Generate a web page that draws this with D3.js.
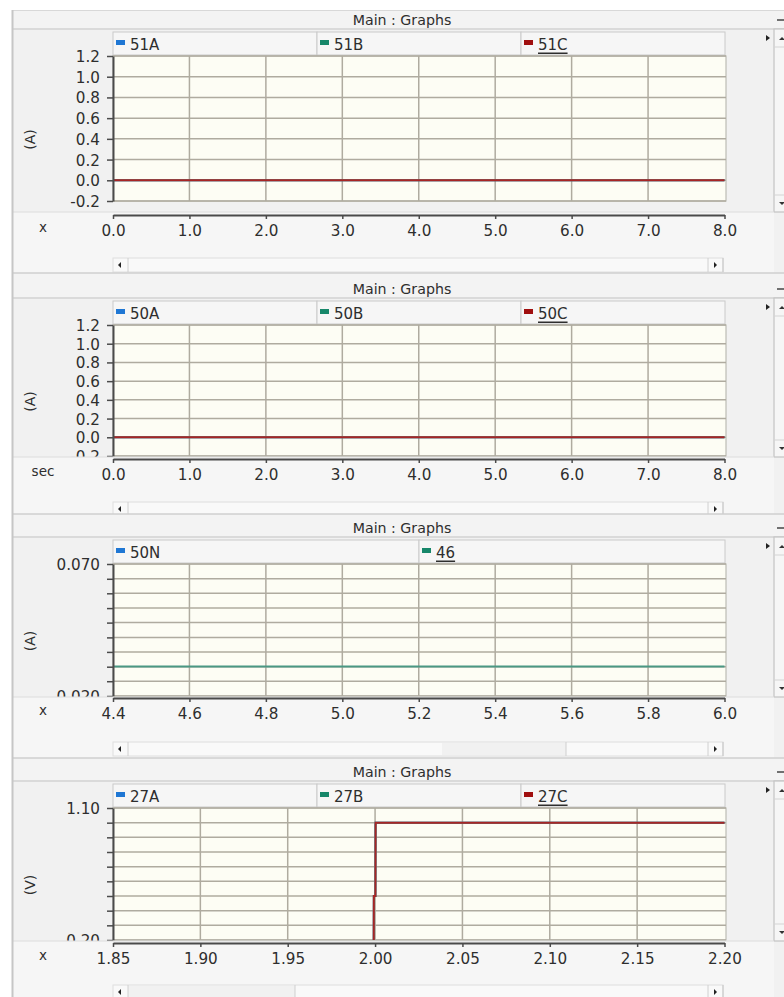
<!DOCTYPE html>
<html>
<head>
<meta charset="utf-8">
<script src="https://cdn.jsdelivr.net/npm/d3@7"></script>
<style>
  body { margin: 0; background: #fff; }
  svg { display: block; font-family: "DejaVu Sans", Verdana, sans-serif; }
</style>
</head>
<body>
<div id="chart"></div>
<script>
// graph 1 : 51 phase currents
const g1Names = ["51A", "51B", "51C"];
const g1Time = [0.0, 8.0];
const g1A = [0.0, 0.0];
const g1B = [0.0, 0.0];
const g1C = [0.0, 0.0];
const g1YTicks = [-0.2, 0.0, 0.2, 0.4, 0.6, 0.8, 1.0, 1.2];
const g1XTicks = [0, 1, 2, 3, 4, 5, 6, 7, 8];

// graph 2 : 50 phase currents
const g2Names = ["50A", "50B", "50C"];
const g2Time = [0.0, 8.0];
const g2A = [0.0, 0.0];
const g2B = [0.0, 0.0];
const g2C = [0.0, 0.0];
const g2YTicks = [-0.2, 0.0, 0.2, 0.4, 0.6, 0.8, 1.0, 1.2];
const g2XTicks = [0, 1, 2, 3, 4, 5, 6, 7, 8];

// graph 3 : neutral + negative sequence
const g3Names = ["50N", "46"];
const g3Time = [4.4, 6.0];
const g3N = [0.0, 0.0];
const g346 = [0.0312, 0.0312];
const g3YTicks = [0.020, 0.0256, 0.0311, 0.0367, 0.0422, 0.0478, 0.0533, 0.0589, 0.0644, 0.070];
const g3XTicks = [4.4, 4.6, 4.8, 5.0, 5.2, 5.4, 5.6, 5.8, 6.0];

// graph 4 : 27 undervoltage
const g4Names = ["27A", "27B", "27C"];
const g4Time = [1.85, 1.9992, 1.9993, 2.0002, 2.0003, 2.20];
const g4A = [0.0, 0.0, 0.5, 0.5, 1.0, 1.0];
const g4B = [0.0, 0.0, 0.5, 0.5, 1.0, 1.0];
const g4C = [0.0, 0.0, 0.5, 0.5, 1.0, 1.0];
const g4YTicks = [0.2, 0.3, 0.4, 0.5, 0.6, 0.7, 0.8, 0.9, 1.0, 1.1];
const g4XTicks = [1.85, 1.90, 1.95, 2.00, 2.05, 2.10, 2.15, 2.20];

const colors = ["#1f77d4", "#17876a", "#a00f0f"];
const lineColors = ["#3a7fd0", "#4a9883", "#a82525"];

const graphs = [
  { names: g1Names, time: g1Time, series: [g1A, g1B, g1C], yTicks: g1YTicks, xTicks: g1XTicks,
    unit: "(A)", xName: "x", yDec: 1, xDec: 1, allLabels: true },
  { names: g2Names, time: g2Time, series: [g2A, g2B, g2C], yTicks: g2YTicks, xTicks: g2XTicks,
    unit: "(A)", xName: "sec", yDec: 1, xDec: 1, allLabels: true },
  { names: g3Names, time: g3Time, series: [g3N, g346], yTicks: g3YTicks, xTicks: g3XTicks,
    unit: "(A)", xName: "x", yDec: 3, xDec: 1, allLabels: false, fixedLabels: ["0.020", "0.070"] },
  { names: g4Names, time: g4Time, series: [g4A, g4B, g4C], yTicks: g4YTicks, xTicks: g4XTicks,
    unit: "(V)", xName: "x", yDec: 2, xDec: 2, allLabels: false, fixedLabels: ["0.20", "1.10"] }
];

// panel geometry (pixels)
const layout = [
  { top: 10,  titleB: 29,  plotTop: 56,  plotBot: 201, axisTop: 212, axisY: 215, scrollY: 258, bottom: 273, thumb: null },
  { top: 273, titleB: 298, plotTop: 325, plotBot: 456, axisTop: 457, axisY: 459, scrollY: 502, bottom: 514, thumb: null },
  { top: 514, titleB: 537, plotTop: 564, plotBot: 696, axisTop: 697, axisY: 698, scrollY: 742, bottom: 758, thumb: [442, 566] },
  { top: 758, titleB: 781, plotTop: 808, plotBot: 940, axisTop: 941, axisY: 943, scrollY: 985, bottom: 1000, thumb: [128, 295] }
];

const W = 784, H = 997;
const plotL = 113, plotR = 726;
const txt = "#2e2e2e";
const font = '"DejaVu Sans", Verdana, sans-serif';

const svg = d3.select("#chart").append("svg")
  .attr("width", W).attr("height", H);

svg.append("rect").attr("width", W).attr("height", H).attr("fill", "#fff");

graphs.forEach((g, gi) => {
  const L = layout[gi];
  const panel = svg.append("g");

  // panel background
  panel.append("rect").attr("x", 12).attr("y", L.top).attr("width", W - 12).attr("height", L.bottom - L.top)
    .attr("fill", "#f1f1f1");
  // title bar
  panel.append("rect").attr("x", 12).attr("y", L.top).attr("width", W - 12).attr("height", L.titleB - L.top)
    .attr("fill", "#f3f3f3");
  panel.append("line").attr("x1", 12).attr("x2", W).attr("y1", L.titleB).attr("y2", L.titleB)
    .attr("stroke", "#d2d2d2").attr("stroke-width", 1.5);
  panel.append("line").attr("x1", 12).attr("x2", W).attr("y1", L.top + 0.5).attr("y2", L.top + 0.5)
    .attr("stroke", "#d8d8d8");
  panel.append("text").attr("x", 402).attr("y", L.titleB - 9.5)
    .attr("text-anchor", "middle").attr("dominant-baseline", "central")
    .attr("font-size", 14.2).attr("fill", txt).text("Main : Graphs");
  // minimise dash top right
  panel.append("line").attr("x1", 777).attr("x2", W).attr("y1", L.titleB - 9).attr("y2", L.titleB - 9)
    .attr("stroke", "#444").attr("stroke-width", 1.5);

  // legend bar
  const legTop = L.titleB + 3, legBot = L.plotTop - 1;
  const cellW = (plotR - 1 - plotL) / g.names.length;
  g.names.forEach((name, i) => {
    const cx = plotL + i * cellW;
    panel.append("rect").attr("x", cx).attr("y", legTop).attr("width", cellW).attr("height", legBot - legTop)
      .attr("fill", "#f6f6f6").attr("stroke", "#cacaca").attr("stroke-width", 1);
    const c = gi === 2 ? (i === 0 ? colors[0] : colors[1]) : colors[i];
    panel.append("rect").attr("x", cx + 3).attr("y", (legTop + legBot) / 2 - 3.5)
      .attr("width", 9).attr("height", 5).attr("fill", c);
    const last = i === g.names.length - 1;
    panel.append("text").attr("x", cx + 17).attr("y", (legTop + legBot) / 2 + 1)
      .attr("dominant-baseline", "central").attr("font-size", 15).attr("fill", txt)
      .attr("text-decoration", last ? "underline" : null)
      .text(name);
  });

  // scales
  const x = d3.scaleLinear().domain(d3.extent(g.xTicks)).range([plotL, plotR - 1.5]);
  const y = d3.scaleLinear().domain(d3.extent(g.yTicks)).range([L.plotBot, L.plotTop]);

  // plot area
  panel.append("rect").attr("x", plotL).attr("y", L.plotTop).attr("width", plotR - plotL)
    .attr("height", L.plotBot - L.plotTop)
    .attr("fill", "#fdfdf4").attr("stroke", "#bdbdb5").attr("stroke-width", 1.2);

  // grid
  panel.append("g").selectAll("line").data(g.yTicks).join("line")
    .attr("x1", plotL).attr("x2", plotR).attr("y1", d => y(d)).attr("y2", d => y(d))
    .attr("stroke", "#afab9f").attr("stroke-width", 1.5);
  panel.append("g").selectAll("line").data(g.xTicks.slice(1, -1)).join("line")
    .attr("x1", d => x(d)).attr("x2", d => x(d)).attr("y1", L.plotTop).attr("y2", L.plotBot)
    .attr("stroke", "#afab9f").attr("stroke-width", 1.5);

  // series
  const clipId = "clip" + gi;
  svg.append("clipPath").attr("id", clipId).append("rect")
    .attr("x", plotL).attr("y", L.plotTop).attr("width", plotR - plotL).attr("height", L.plotBot - L.plotTop);
  const line = d3.line().x((d, i) => x(g.time[i])).y(d => y(d));
  g.series.forEach((s, i) => {
    const c = gi === 2 ? (i === 0 ? lineColors[0] : lineColors[1]) : lineColors[i];
    panel.append("path").datum(s).attr("clip-path", `url(#${clipId})`)
      .attr("d", line).attr("fill", "none").attr("stroke", c).attr("stroke-width", 2);
  });

  // y axis
  const yFmt = d => {
    if (g.allLabels) return d.toFixed(g.yDec);
    const ext = d3.extent(g.yTicks);
    if (d === ext[0]) return g.fixedLabels[0];
    if (d === ext[1]) return g.fixedLabels[1];
    return "";
  };
  const yAx = panel.append("g").attr("transform", `translate(${plotL},0)`)
    .call(d3.axisLeft(y).tickValues(g.yTicks).tickSize(6).tickSizeOuter(0).tickPadding(7).tickFormat(yFmt));
  yAx.select(".domain").attr("stroke", "#4a4a4a").attr("stroke-width", 2);
  yAx.selectAll(".tick line").attr("stroke", "#4a4a4a").attr("stroke-width", 1.5);
  yAx.selectAll(".tick text").attr("font-size", 15.2).attr("fill", txt)
    .attr("font-family", font).attr("dy", "0.36em");

  // y unit label
  panel.append("text")
    .attr("transform", `translate(30,${(L.plotTop + L.plotBot) / 2 + 11}) rotate(-90)`)
    .attr("text-anchor", "middle").attr("dominant-baseline", "central")
    .attr("font-size", 14).attr("fill", txt).text(g.unit);

  // right vertical scroller
  const vsTop = L.titleB, vsBot = L.axisTop;
  panel.append("rect").attr("x", 774).attr("y", vsTop).attr("width", 14).attr("height", vsBot - vsTop)
    .attr("fill", "#f6f6f6").attr("stroke", "#c4c4c4").attr("stroke-width", 1.2);
  panel.append("line").attr("x1", 774).attr("x2", W).attr("y1", vsTop + 18).attr("y2", vsTop + 18).attr("stroke", "#d4d4d4");
  panel.append("line").attr("x1", 774).attr("x2", W).attr("y1", vsBot - 17).attr("y2", vsBot - 17).attr("stroke", "#d4d4d4");
  panel.append("path").attr("d", `M779,${vsTop + 11} l3,-3 l3,3 z`).attr("fill", "#333");
  panel.append("path").attr("d", `M779,${vsBot - 10} l3,3 l3,-3 z`).attr("fill", "#333");
  panel.append("path").attr("d", `M766,${vsTop + 6} l4,3 l-4,3 z`).attr("fill", "#222");

  // x axis region
  panel.append("rect").attr("x", 12).attr("y", L.axisTop).attr("width", 762).attr("height", L.bottom - L.axisTop)
    .attr("fill", "#f6f6f6");
  panel.append("line").attr("x1", 12).attr("x2", 774).attr("y1", L.axisTop).attr("y2", L.axisTop)
    .attr("stroke", "#dcdcdc");

  const xAx = panel.append("g").attr("transform", `translate(0,${L.axisY})`)
    .call(d3.axisBottom(x).tickValues(g.xTicks).tickSize(4).tickSizeOuter(0).tickFormat(d => d.toFixed(g.xDec)));
  xAx.select(".domain").attr("stroke", "#4a4a4a").attr("stroke-width", 2);
  xAx.selectAll(".tick line").attr("stroke", "#4a4a4a").attr("stroke-width", 1.5);
  xAx.selectAll(".tick text").attr("y", 16).attr("dy", "0.36em").attr("font-size", 15.2).attr("fill", txt)
    .attr("font-family", font);

  panel.append("text").attr("x", 43).attr("y", L.axisY + 12)
    .attr("text-anchor", "middle").attr("dominant-baseline", "central")
    .attr("font-size", 13.5).attr("fill", txt).text(g.xName);

  // horizontal scroller
  const sy = L.scrollY;
  panel.append("rect").attr("x", plotL).attr("y", sy).attr("width", 610).attr("height", 14)
    .attr("fill", "#f9f9f9").attr("stroke", "#dedede");
  if (L.thumb) {
    panel.append("rect").attr("x", L.thumb[0]).attr("y", sy + 1).attr("width", L.thumb[1] - L.thumb[0]).attr("height", 12)
      .attr("fill", "#f1f1f1");
    panel.append("line").attr("x1", L.thumb[1]).attr("x2", L.thumb[1]).attr("y1", sy).attr("y2", sy + 14)
      .attr("stroke", "#cfcfcf");
  }
  panel.append("line").attr("x1", 128).attr("x2", 128).attr("y1", sy).attr("y2", sy + 14).attr("stroke", "#d0d0d0");
  panel.append("line").attr("x1", 708).attr("x2", 708).attr("y1", sy).attr("y2", sy + 14).attr("stroke", "#d0d0d0");
  panel.append("line").attr("x1", 723).attr("x2", 723).attr("y1", sy).attr("y2", sy + 14).attr("stroke", "#c4c4c4");
  panel.append("path").attr("d", `M118,${sy + 7} l3,-3 l0,6 z`).attr("fill", "#222");
  panel.append("path").attr("d", `M717,${sy + 7} l-3,-3 l0,6 z`).attr("fill", "#222");

  panel.append("line").attr("x1", 12).attr("x2", W).attr("y1", L.bottom).attr("y2", L.bottom)
    .attr("stroke", "#cfcfcf").attr("stroke-width", 1.5);
});

// left border of the window
svg.append("line").attr("x1", 12.5).attr("x2", 12.5).attr("y1", 10).attr("y2", H)
  .attr("stroke", "#c6c6c6").attr("stroke-width", 2);
</script>
</body>
</html>
